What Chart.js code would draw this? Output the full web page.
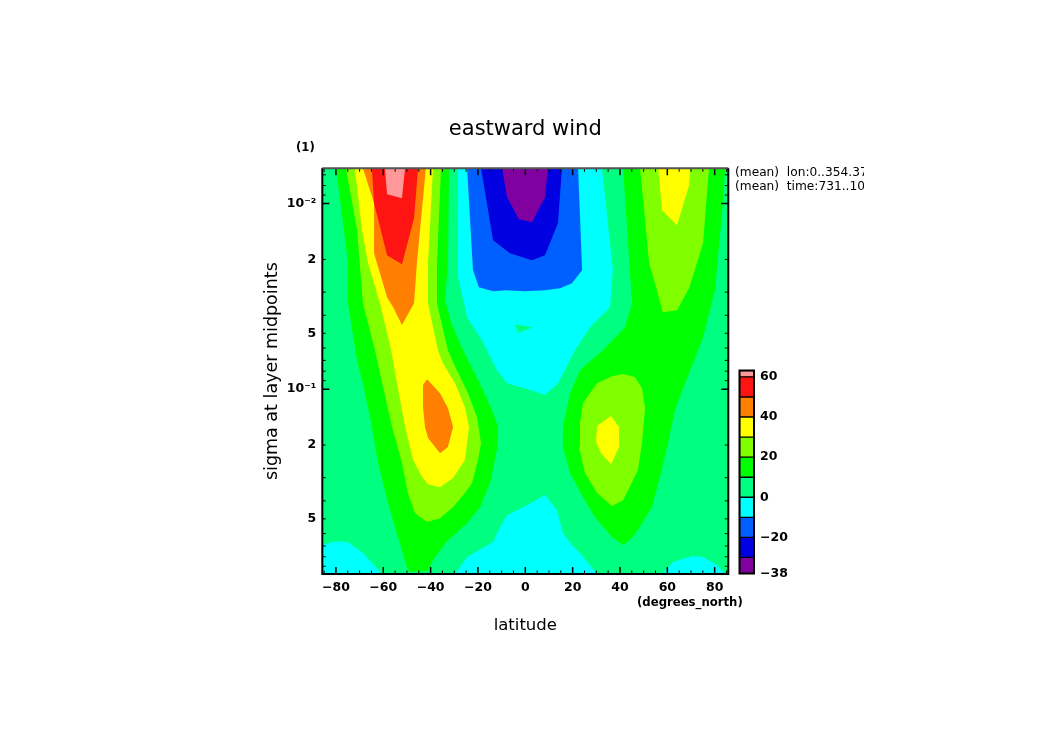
<!DOCTYPE html>
<html><head><meta charset="utf-8">
<style>html,body{margin:0;padding:0;background:#fff}
#wrap{position:relative;width:1050px;height:742px;overflow:hidden}
#main{position:absolute;left:0;top:0}
#bar{position:absolute;left:730px;top:357px}</style>
<script src="https://cdn.jsdelivr.net/npm/chart.js@4"></script>
</head><body><div id="wrap"><canvas id="main" width="1050" height="742"></canvas><canvas id="bar" width="80" height="230"></canvas></div>
<script>
// Contour regions, each vertex is [latitude in degrees north, log10(sigma)]
const latMin=-85.76, latMax=85.76, logTop=-2.19, logBottom=-0.004;
const band0to10=[[latMin,logTop],[latMax,logTop],[latMax,logBottom],[latMin,logBottom]];
const bandNeg10to0Upper=[[-28.4,-2.19],[-28.4,-1.603],[-24.6,-1.388],[-18.3,-1.264],[-16.2,-1.21],[-12,-1.102],[-7.7,-1.032],[2,-.995],[8.3,-.968],[13.8,-1.032],[21,-1.21],[27.3,-1.334],[35.8,-1.442],[37,-1.641],[32.4,-2.19]];
const bandNeg10to0Center=[[-29.7,-.004],[-24.6,-.095],[-13.6,-.176],[-10.7,-.257],[-7.7,-.321],[.7,-.375],[8.3,-.429],[13.4,-.348],[15.9,-.225],[19.7,-.16],[23.1,-.117],[30.3,-.004]];
const bandNeg10to0South=[[-85.76,-.16],[-80.3,-.181],[-74.9,-.176],[-68.6,-.117],[-60.5,-.004],[-85.76,-.004]];
const bandNeg10to0North=[[57.8,-.004],[62.4,-.068],[70.4,-.101],[75.1,-.095],[81,-.052],[84.4,-.004]];
const bandNeg20=[[-24.6,-2.19],[-22.1,-1.641],[-19.6,-1.549],[-13.6,-1.528],[-8.2,-1.533],[-.1,-1.528],[8.3,-1.533],[14.7,-1.544],[19.7,-1.571],[24,-1.641],[22.3,-2.19]];
const bandNeg30=[[-18.7,-2.19],[-13.6,-1.802],[-6.5,-1.732],[2.8,-1.695],[8.3,-1.722],[13.8,-1.894],[15.5,-2.19]];
const bandNeg38=[[-9.8,-2.19],[-7.7,-2.034],[-2.7,-1.915],[2.8,-1.899],[8.3,-2.034],[9.6,-2.19]];
const island0to10=[[-4.4,-1.35],[3.3,-1.334],[-3.1,-1.302]];
const south10=[[-80,-2.19],[-77.4,-1.937],[-74.9,-1.679],[-74.9,-1.463],[-71.1,-1.156],[-68.6,-1.032],[-64.8,-.796],[-62.2,-.602],[-58,-.386],[-53.8,-.203],[-50,-.041],[-48.7,-.015],[-41.1,-.02],[-39,-.079],[-33.1,-.181],[-24.6,-.278],[-19.1,-.365],[-14.9,-.494],[-12,-.672],[-11.5,-.796],[-13.6,-.871],[-17.9,-.995],[-22.1,-1.102],[-26.3,-1.21],[-31,-1.345],[-33.9,-1.479],[-32.7,-1.679],[-32.2,-2.19]];
const south20=[[-75.8,-2.19],[-71.1,-1.856],[-68.6,-1.463],[-63.5,-1.21],[-60.5,-1.032],[-56.3,-.796],[-52.1,-.602],[-49.6,-.44],[-46.6,-.332],[-41.5,-.284],[-36,-.305],[-30.5,-.365],[-25.5,-.44],[-22.5,-.494],[-20,-.618],[-18.7,-.709],[-20.4,-.849],[-24.2,-.978],[-28.9,-1.102],[-32.7,-1.21],[-37.3,-1.463],[-37.3,-1.679],[-35.6,-2.19]];
const south30=[[-72,-2.19],[-69,-1.856],[-66.4,-1.679],[-61.4,-1.463],[-56.7,-1.21],[-54.2,-1.032],[-50.8,-.796],[-47.4,-.618],[-43.6,-.526],[-41.1,-.488],[-36,-.472],[-30.5,-.521],[-25.5,-.618],[-23.8,-.796],[-25.5,-.903],[-29.7,-1.032],[-34.8,-1.14],[-36.9,-1.21],[-41.1,-1.463],[-41.1,-1.679],[-39,-2.19]];
const south40Upper=[[-68.6,-2.19],[-63.9,-2.002],[-63.9,-1.732],[-58.4,-1.495],[-55.9,-1.442],[-52.1,-1.345],[-47,-1.463],[-45.8,-1.679],[-42,-2.19]];
const south40Lower=[[-41.5,-1.054],[-43.2,-1.022],[-43.2,-.903],[-42.4,-.796],[-41.1,-.737],[-36,-.655],[-32.7,-.688],[-30.5,-.796],[-32.7,-.898],[-36,-.978]];
const south50=[[-64.8,-2.19],[-63.9,-2.002],[-58.4,-1.722],[-52.1,-1.673],[-47,-1.921],[-45.3,-2.19]];
const south60=[[-59.3,-2.19],[-58.4,-2.05],[-52.1,-2.029],[-50.8,-2.19]];
const north10=[[41.3,-2.19],[45.1,-1.463],[42.1,-1.334],[32.8,-1.21],[23.1,-1.102],[18.9,-.978],[15.9,-.796],[15.9,-.688],[18.9,-.548],[24.4,-.418],[29.4,-.311],[36.6,-.203],[41.3,-.16],[44.2,-.187],[47.6,-.241],[53.5,-.365],[56.9,-.526],[60.3,-.709],[63.2,-.887],[67.5,-1.032],[73,-1.21],[75.1,-1.28],[80.1,-1.533],[83.1,-1.948],[84.4,-2.19]];
const north20Upper=[[48.5,-2.19],[52.3,-1.679],[55.6,-1.533],[58.1,-1.415],[64.1,-1.425],[69.2,-1.544],[75.1,-1.786],[77.6,-2.19]];
const north30Upper=[[56.1,-2.19],[57.8,-1.964],[64.1,-1.883],[69.2,-2.099],[69.6,-2.19]];
const north20Lower=[[36.6,-1.07],[41.3,-1.081],[46.3,-1.065],[49.3,-1.005],[50.6,-.898],[49.3,-.709],[47.6,-.564],[41.3,-.402],[36.6,-.37],[30.3,-.44],[25.2,-.548],[22.7,-.688],[23.1,-.817],[24.4,-.925],[30.3,-1.032]];
const north30Lower=[[36.2,-.855],[30.3,-.801],[29.9,-.715],[32,-.655],[36.2,-.596],[39.6,-.688],[39.6,-.796]];

const colors={n38:'#8000a0',n30:'#0000e0',n20:'#0060ff',n10:'#00ffff',p0:'#00ff80',p10:'#00ff00',p20:'#80ff00',p30:'#ffff00',p40:'#ff8000',p50:'#ff1414',p60:'#ff9898'};
// painted bottom to top
const layers=[[band0to10,'p0'],[bandNeg10to0Upper,'n10'],[bandNeg10to0Center,'n10'],[bandNeg10to0South,'n10'],[bandNeg10to0North,'n10'],
 [bandNeg20,'n20'],[bandNeg30,'n30'],[bandNeg38,'n38'],[island0to10,'p0'],
 [south10,'p10'],[south20,'p20'],[south30,'p30'],[south40Upper,'p40'],[south40Lower,'p40'],[south50,'p50'],[south60,'p60'],
 [north10,'p10'],[north20Upper,'p20'],[north30Upper,'p30'],[north20Lower,'p20'],[north30Lower,'p30']];

const latTicks=[-80,-60,-40,-20,0,20,40,60,80];
const latTickLabels=['−80','−60','−40','−20','0','20','40','60','80'];
const latMinorTicks=[-85,-75,-70,-65,-55,-50,-45,-35,-30,-25,-15,-10,-5,5,10,15,25,30,35,45,50,55,65,70,75,85];
const sigmaTicks=[0.01,0.02,0.05,0.1,0.2,0.5];
const sigmaTickLabels=['10⁻²','2','5','10⁻¹','2','5'];
const sigmaMajor=[0.01,0.1];
const sigmaMinor=[0.007,0.008,0.009,0.02,0.03,0.04,0.05,0.06,0.07,0.08,0.09,0.2,0.3,0.4,0.5,0.6,0.7,0.8,0.9];
const barEdges=[-38,-30,-20,-10,0,10,20,30,40,50,60,63.2];
const barKeys=['n38','n30','n20','n10','p0','p10','p20','p30','p40','p50','p60'];
const barTicks=[-38,-20,0,20,40,60];
const barTickLabels=['−38','−20','0','20','40','60'];

const boldFont={family:'"DejaVu Sans"',size:12.5,weight:'bold'};
const frame={id:'frame',afterDraw(c){
 const g=c.ctx,a=c.chartArea,x=c.scales.x,y=c.scales.y;
 g.save();g.strokeStyle='#000';g.lineCap='butt';
 g.lineWidth=1.5;
 latTicks.forEach(v=>{const p=x.getPixelForValue(v);g.beginPath();g.moveTo(p,a.bottom);g.lineTo(p,a.bottom-7);g.moveTo(p,a.top);g.lineTo(p,a.top+7);g.stroke();});
 g.lineWidth=1;
 latMinorTicks.forEach(v=>{const p=x.getPixelForValue(v);g.beginPath();g.moveTo(p,a.bottom);g.lineTo(p,a.bottom-3.5);g.moveTo(p,a.top);g.lineTo(p,a.top+3.5);g.stroke();});
 g.lineWidth=1.5;
 sigmaMajor.forEach(v=>{const p=y.getPixelForValue(v);g.beginPath();g.moveTo(a.left,p);g.lineTo(a.left+7,p);g.moveTo(a.right,p);g.lineTo(a.right-7,p);g.stroke();});
 g.lineWidth=1;
 sigmaMinor.forEach(v=>{const p=y.getPixelForValue(v);g.beginPath();g.moveTo(a.left,p);g.lineTo(a.left+3.5,p);g.moveTo(a.right,p);g.lineTo(a.right-3.5,p);g.stroke();});
 g.lineWidth=2;g.strokeStyle='#555';g.beginPath();g.moveTo(a.left,a.top);g.lineTo(a.right,a.top);g.stroke();
 g.strokeStyle='#000';g.beginPath();g.moveTo(a.left,a.top);g.lineTo(a.left,a.bottom);g.lineTo(a.right,a.bottom);g.lineTo(a.right,a.top);g.stroke();
 g.fillStyle='#000';g.textBaseline='middle';g.textAlign='left';
 g.font='bold 11.7px "DejaVu Sans"';g.fillText('(1)',296,148);g.fillText('(degrees_north)',637,603);
 g.save();g.beginPath();g.rect(730,160,134,40);g.clip();
 g.font='12.2px "DejaVu Sans"';g.fillText('(mean)  lon:0..354.375',735,173);g.fillText('(mean)  time:731..1095',735,187);
 g.restore();g.restore();
}};
new Chart(document.getElementById('main'),{
 type:'scatter',
 data:{datasets:layers.map(([poly,k])=>({data:poly.map(([lat,ls])=>({x:lat,y:Math.pow(10,ls)})),showLine:true,fill:'shape',backgroundColor:colors[k],borderWidth:0,pointRadius:0,tension:0})).reverse()},
 options:{responsive:false,animation:false,
  layout:{padding:{left:261.5,right:321.7,top:117.4,bottom:106}},
  plugins:{legend:{display:false},tooltip:{enabled:false},
   title:{display:true,text:'eastward wind',fullSize:false,color:'#000',font:{family:'"DejaVu Sans"',size:21,weight:'normal',lineHeight:1.2},padding:{top:0,bottom:25.7}}},
  scales:{
   x:{type:'linear',min:latMin,max:latMax,grid:{display:false,tickLength:0,drawTicks:false},border:{display:false},
    afterBuildTicks(s){s.ticks=latTicks.map(v=>({value:v}));},
    afterFit(s){s.height=62;},
    ticks:{autoSkip:false,maxRotation:0,padding:6,color:'#000',font:boldFont,callback:(v,i)=>latTickLabels[i]},
    title:{display:true,text:'latitude',color:'#000',font:{family:'"DejaVu Sans"',size:16.5,weight:'normal',lineHeight:1.2},padding:0}},
   y:{type:'logarithmic',reverse:true,min:Math.pow(10,logTop),max:Math.pow(10,logBottom),grid:{display:false,tickLength:0,drawTicks:false},border:{display:false},
    afterBuildTicks(s){s.ticks=sigmaTicks.map(v=>({value:v}));},
    afterFit(s){s.width=60.8;},
    ticks:{autoSkip:false,padding:6,color:'#000',font:boldFont,callback:(v,i)=>sigmaTickLabels[i]},
    title:{display:true,text:'sigma at layer midpoints',color:'#000',font:{family:'"DejaVu Sans"',size:17.5,weight:'normal',lineHeight:1.2},padding:0}}
  }},
 plugins:[frame]});

const barFrame={id:'barFrame',afterDraw(c){const g=c.ctx,a=c.chartArea;g.save();g.strokeStyle='#000';g.lineWidth=2;g.strokeRect(a.left,a.top,a.right-a.left,a.bottom-a.top);g.restore();}};
new Chart(document.getElementById('bar'),{
 type:'bar',
 data:{labels:['wind'],datasets:barKeys.map((k,i)=>({data:[[barEdges[i],barEdges[i+1]]],backgroundColor:colors[k],borderColor:'#000',borderWidth:1,borderSkipped:false}))},
 options:{responsive:false,animation:false,
  layout:{padding:{left:9.5,top:8,bottom:12.5,right:0}},
  datasets:{bar:{grouped:false,barPercentage:1,categoryPercentage:1}},
  plugins:{legend:{display:false},tooltip:{enabled:false}},
  scales:{x:{display:false},
   y:{position:'right',min:-38,max:63.2,grid:{display:false,tickLength:0,drawTicks:false},border:{display:false},
    afterBuildTicks(s){s.ticks=barTicks.map(v=>({value:v}));},
    afterFit(s){s.width=56;},
    ticks:{autoSkip:false,padding:6,color:'#000',font:boldFont,callback:(v,i)=>barTickLabels[i]}}}},
 plugins:[barFrame]});
</script></body></html>
